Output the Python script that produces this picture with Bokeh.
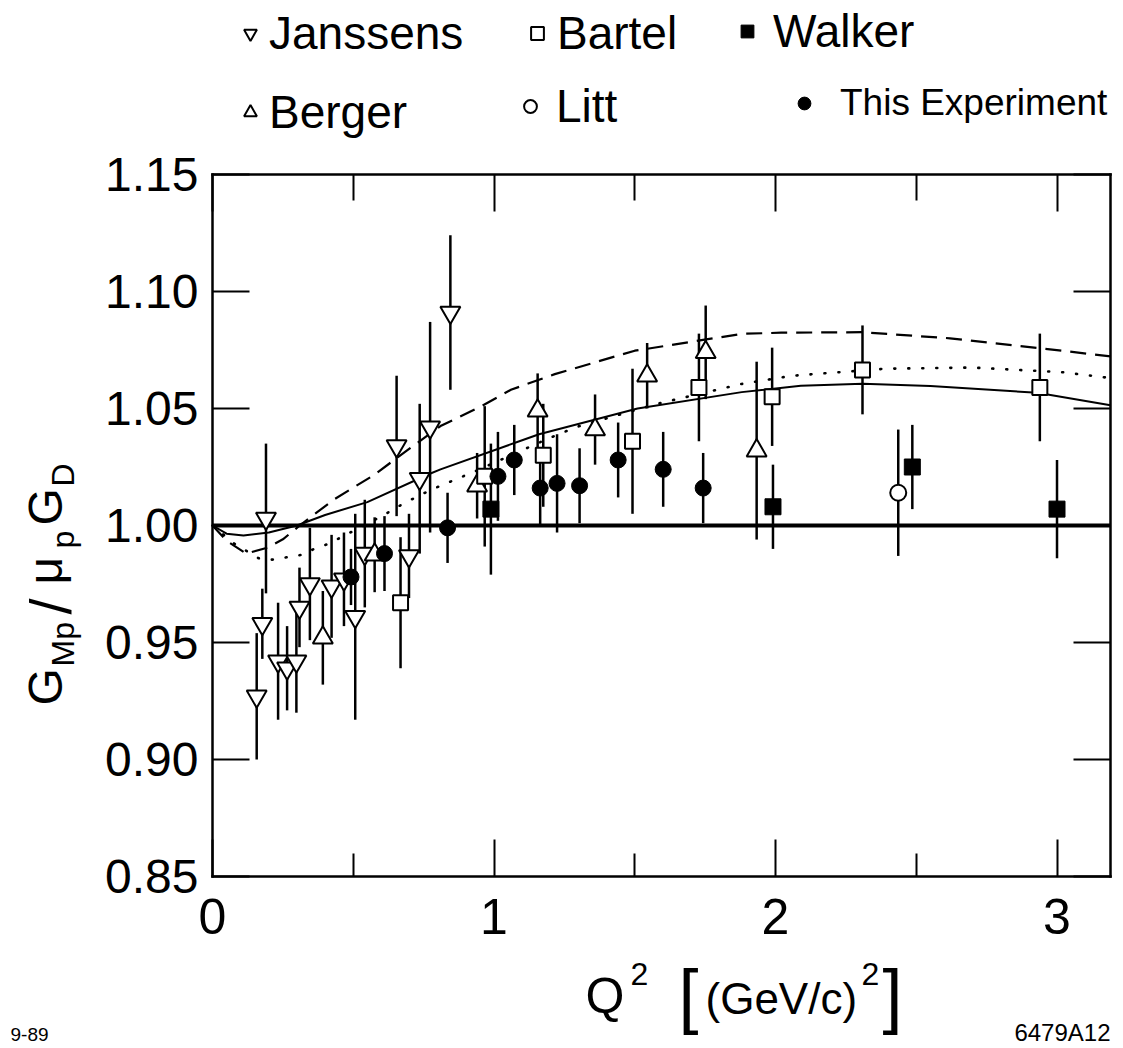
import math
from bokeh.plotting import figure
from bokeh.models import (Range1d, FixedTicker, LinearAxis, NumeralTickFormatter,
                          CustomJSTickFormatter, Label, Legend, LegendItem)
from bokeh.embed import file_html
from bokeh.resources import INLINE

# ---------------- data ----------------
janssens_q = [0.157, 0.177, 0.190, 0.233, 0.265, 0.298, 0.309, 0.346, 0.423, 0.467,
              0.507, 0.541, 0.654, 0.698, 0.736, 0.773, 0.845]
janssens_v = [0.927, 0.958, 1.003, 0.942, 0.939, 0.942, 0.965, 0.975, 0.974, 0.977,
              0.961, 0.988, 1.034, 0.987, 1.020, 1.042, 1.091]
janssens_e = [0.027, 0.015, 0.032, 0.025, 0.018, 0.022, 0.017, 0.024, 0.022, 0.020,
              0.044, 0.023, 0.030, 0.018, 0.032, 0.045, 0.033]

berger_q = [0.392, 0.576, 0.940, 1.155, 1.359, 1.544, 1.752, 1.933]
berger_v = [0.952, 0.9875, 1.017, 1.049, 1.041, 1.064, 1.074, 1.032]
berger_e = [0.020, 0.016, 0.014, 0.016, 0.015, 0.014, 0.020, 0.038]

bartel_q = [0.668, 0.967, 1.175, 1.492, 1.728, 1.988, 2.309, 2.939]
bartel_v = [0.967, 1.021, 1.030, 1.036, 1.059, 1.055, 1.0665, 1.059]
bartel_e = [0.028, 0.030, 0.022, 0.031, 0.023, 0.021, 0.019, 0.023]

walker_q = [0.989, 1.991, 2.486, 3.000]
walker_v = [1.007, 1.008, 1.025, 1.007]
walker_e = [0.028, 0.018, 0.018, 0.021]

litt_q = [2.436]
litt_v = [1.014]
litt_e = [0.027]

exp_q = [0.492, 0.611, 0.835, 1.014, 1.072, 1.164, 1.224, 1.304, 1.441, 1.601, 1.743]
exp_v = [0.978, 0.988, 0.999, 1.021, 1.028, 1.016, 1.018, 1.017, 1.028, 1.024, 1.016]
exp_e = [0.012, 0.016, 0.015, 0.019, 0.015, 0.016, 0.021, 0.016, 0.016, 0.016, 0.015]

# model curves
solid_q = [0.0, 0.05, 0.11, 0.20, 0.30, 0.40, 0.55, 0.77, 0.81, 1.09, 1.16, 1.51,
           1.88, 2.09, 2.31, 2.55, 2.93, 3.19]
solid_v = [1.0, 0.9965, 0.9957, 0.997, 1.0, 1.0045, 1.010, 1.022, 1.024, 1.036, 1.039,
           1.050, 1.057, 1.0597, 1.0606, 1.0596, 1.0567, 1.0514]

dash_q = [0.0, 0.05, 0.12, 0.195, 0.25, 0.31, 0.43, 0.575, 0.69, 0.81, 0.955, 1.06,
          1.216, 1.50, 1.88, 2.02, 2.31, 2.62, 2.95, 3.19]
dash_v = [1.0, 0.9935, 0.988, 0.9905, 0.9941, 1.0, 1.011, 1.0217, 1.032, 1.0425, 1.051,
          1.058, 1.0647, 1.0747, 1.0819, 1.0824, 1.0826, 1.080, 1.0756, 1.0723]

dot_q = [0.0, 0.08, 0.164, 0.212, 0.267, 0.318, 0.366, 0.413, 0.598, 0.68, 0.775, 0.87,
         0.93, 1.19, 1.29, 1.58, 1.88, 2.06, 2.39, 2.70, 3.02, 3.19]
dot_v = [1.0, 0.992, 0.986, 0.9854, 0.9865, 0.9875, 0.9903, 0.9922, 1.0038, 1.0095,
         1.0152, 1.020, 1.023, 1.037, 1.042, 1.052, 1.0605, 1.064, 1.067, 1.0675, 1.0655, 1.063]

dipole_q = [0.0, 3.19]
dipole_v = [1.0, 1.0]

x_ticks = [0, 1, 2, 3]
x_minor = [0.5, 1.5, 2.5]
y_ticks = [0.85, 0.90, 0.95, 1.00, 1.05, 1.10, 1.15]

# ---------------- layout ----------------
FONT = "Liberation Sans"
W, H = 1123, 1048
FL, FR, FT, FB = 212, 1110, 174, 876      # where the boxed plot area sits on the page
X0, X1 = 0.0, 3.19
Y0, Y1 = 0.85, 1.15


def dx(sx):
    return X0 + (sx - FL) * (X1 - X0) / (FR - FL)


def dy(sy):
    return Y1 - (sy - FT) * (Y1 - Y0) / (FB - FT)


# the Bokeh frame spans the whole page; the boxed area is drawn by fixed-location axes
p = figure(width=W, height=H, x_range=Range1d(dx(0), dx(W)), y_range=Range1d(dy(H), dy(0)),
           output_backend="svg", toolbar_location=None,
           min_border_left=0, min_border_right=0, min_border_top=0, min_border_bottom=0,
           x_axis_location=None, y_axis_location=None)
p.title.visible = False
p.xgrid.visible = False
p.ygrid.visible = False
p.outline_line_color = None
p.background_fill_color = "white"
p.border_fill_color = "white"

xt = FixedTicker(ticks=x_ticks, minor_ticks=x_minor)
yt = FixedTicker(ticks=y_ticks)
blank = CustomJSTickFormatter(code="return ''")


def make_axis(ticker, loc, bounds, formatter=None):
    ax = LinearAxis(ticker=ticker, fixed_location=loc, bounds=bounds)
    if formatter is not None:
        ax.formatter = formatter
    ax.axis_line_color = "black"
    ax.axis_line_width = 2.5
    ax.axis_line_cap = "square"
    ax.major_tick_in = 37
    ax.major_tick_out = 0
    ax.major_tick_line_width = 2
    ax.major_tick_line_color = "black"
    ax.minor_tick_in = 23
    ax.minor_tick_out = 0
    ax.minor_tick_line_width = 2
    ax.minor_tick_line_color = "black"
    ax.major_label_text_font = FONT
    ax.major_label_text_color = "black"
    return ax


bottom_ax = make_axis(xt, Y0, (X0, X1))
bottom_ax.major_label_text_font_size = "50px"
bottom_ax.major_label_standoff = 22
p.add_layout(bottom_ax, "below")

left_ax = make_axis(yt, X0, (Y0, Y1), NumeralTickFormatter(format="0.00"))
left_ax.major_label_text_font_size = "48px"
left_ax.major_label_standoff = 14
p.add_layout(left_ax, "left")

top_ax = make_axis(xt, Y1, (X0, X1), blank)
top_ax.minor_tick_in = 26
top_ax.major_label_standoff = 0
p.add_layout(top_ax, "above")

right_ax = make_axis(yt, X1, (Y0, Y1), blank)
right_ax.major_label_standoff = 0
p.add_layout(right_ax, "right")

# ---------------- curves ----------------
p.line(dipole_q, dipole_v, line_color="black", line_width=4)
p.line(solid_q, solid_v, line_color="black", line_width=2)
p.line(dash_q, dash_v, line_color="black", line_width=2.2, line_dash="16 9")
p.line(dot_q, dot_v, line_color="black", line_width=2.6, line_dash="1 13", line_cap="round")


# ---------------- data points ----------------
def errbars(q, v, e):
    lo = [a - b for a, b in zip(v, e)]
    hi = [a + b for a, b in zip(v, e)]
    p.segment(x0=q, y0=lo, x1=q, y1=hi, line_color="black", line_width=2.5)


for q, v, e in [(janssens_q, janssens_v, janssens_e), (berger_q, berger_v, berger_e),
                (bartel_q, bartel_v, bartel_e), (walker_q, walker_v, walker_e),
                (litt_q, litt_v, litt_e), (exp_q, exp_v, exp_e)]:
    errbars(q, v, e)

r_jan = p.scatter(janssens_q, janssens_v, marker="inverted_triangle", size=20,
                  fill_color="white", line_color="black", line_width=2)
r_ber = p.scatter(berger_q, berger_v, marker="triangle", size=20,
                  fill_color="white", line_color="black", line_width=2)
r_bar = p.scatter(bartel_q, bartel_v, marker="square", size=15,
                  fill_color="white", line_color="black", line_width=2)
r_wal = p.scatter(walker_q, walker_v, marker="square", size=16,
                  fill_color="black", line_color="black", line_width=1)
r_lit = p.scatter(litt_q, litt_v, marker="circle", size=16,
                  fill_color="white", line_color="black", line_width=2)
r_exp = p.scatter(exp_q, exp_v, marker="circle", size=16,
                  fill_color="black", line_color="black", line_width=1)


# ---------------- legend (two rows above the box) ----------------
def add_leg(label, rend, cx, cy, standoff, fs="46px"):
    gw, gh = 32, 56
    leg = Legend(items=[LegendItem(label=label, renderers=[rend])],
                 location=(cx - gw / 2, H - (cy - gh / 2) - gh),
                 orientation="horizontal", border_line_color=None,
                 background_fill_alpha=0, padding=0, margin=0, spacing=0,
                 glyph_width=gw, glyph_height=gh, label_height=gh,
                 label_standoff=standoff, label_text_font=FONT,
                 label_text_font_size=fs, label_text_color="black")
    p.add_layout(leg, "center")


add_leg("Janssens", r_jan, 250, 33, 3)
add_leg("Bartel", r_bar, 537, 33, 4)
add_leg("Walker", r_wal, 747, 31, 10)
add_leg("Berger", r_ber, 250, 112, 3)
add_leg("Litt", r_lit, 530, 106, 10)
add_leg("This Experiment", r_exp, 804, 103, 20, fs="37px")


# ---------------- axis titles and notes ----------------
def add_text(txt, sx, sy, size, angle=0.0, align="left"):
    # (sx, sy) is the start of the text on its baseline; Bokeh anchors at the text middle
    if angle == 0.0:
        mx, my = sx, sy - 0.35 * size
    else:
        mx, my = sx - 0.35 * size, sy
    p.add_layout(Label(x=dx(mx), y=dy(my), text=txt, angle=angle, text_align=align,
                       text_baseline="middle", text_font=FONT,
                       text_font_size=f"{size}px", text_color="black"))


A = math.pi / 2
add_text("G", 62, 705, 48, A)
add_text("Mp", 74, 666, 32, A)
add_text("/", 70, 614, 58, A)
add_text("\u03bc", 62, 584, 48, A)
add_text("p", 74, 548, 32, A)
add_text("G", 62, 525, 48, A)
add_text("D", 74, 486, 32, A)

add_text("Q", 585, 1013, 50)
add_text("2", 630, 985, 32)
add_text("[", 678, 1020, 72)
add_text("(GeV/c)", 705, 1013, 44)
add_text("2", 861, 985, 32)
add_text("]", 882, 1020, 72)

add_text("9-89", 10, 1041, 19)
add_text("6479A12", 1110, 1040, 24, align="right")

open("out.html", "w").write(file_html(p, INLINE))
